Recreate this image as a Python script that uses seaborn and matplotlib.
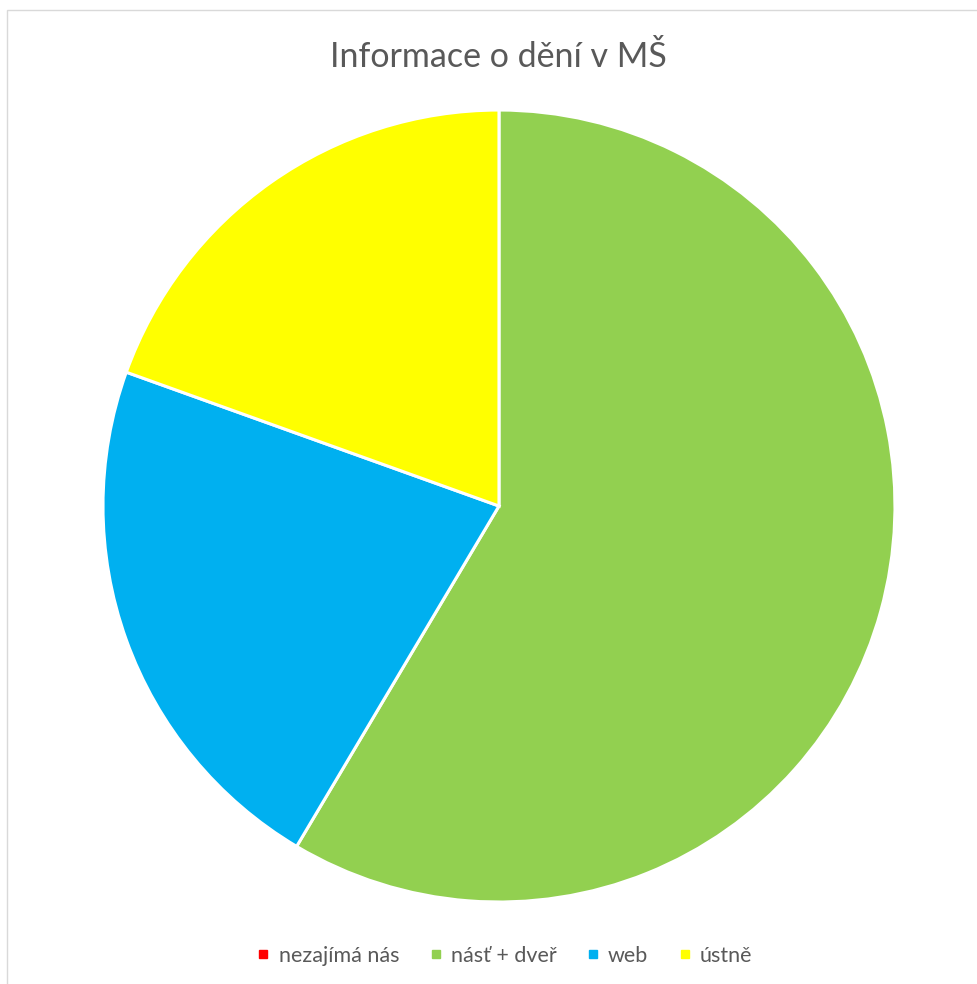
import matplotlib
matplotlib.use('Agg')
import matplotlib.pyplot as plt
from matplotlib.lines import Line2D
from matplotlib.patches import Rectangle
import seaborn as sns

# data (counts)
labels = ['nezajímá nás', 'násť + dveř', 'web', 'ústně']
values = [0, 24, 9, 8]
colors = ['#FF0000', '#92D050', '#00B0F0', '#FFFF00']
title = 'Informace o dění v MŠ'


def plot_pie(values, colors, axes):
    axes.pie(values, colors=colors, startangle=90, counterclock=False,
             radius=1.0, wedgeprops=dict(edgecolor='white', linewidth=2.2))
    axes.set_xlim(-1, 1)
    axes.set_ylim(-1, 1)
    axes.set_aspect('equal')
    axes.axis('off')


if __name__ == '__main__':
    sns.set_theme(style='white')
    plt.rcParams['font.family'] = ['Lato', 'DejaVu Sans']
    palette = sns.color_palette(colors)

    fig = plt.figure(figsize=(9.78, 9.84), dpi=100)
    fig.patches.append(Rectangle((7 / 978, -0.05), 1.1, 1 - 10 / 984 + 0.05,
                                 transform=fig.transFigure, fill=False,
                                 edgecolor='#D9D9D9', linewidth=1))
    ax = fig.add_axes([0.1053, 0.0833, 0.8098, 0.8049])
    plot_pie(values, palette, ax)

    fig.text(0.510, 1 - 57 / 984, title, ha='center', va='center',
             fontsize=24.5, color='#595959')

    handles = [Line2D([], [], linestyle='none', marker='s', markersize=6,
                      markerfacecolor=c, markeredgecolor=c) for c in palette]
    fig.legend(handles, labels, loc='center', bbox_to_anchor=(0.515, 1 - 956 / 984),
               ncol=4, frameon=False, fontsize=15.5, labelcolor='#595959',
               handletextpad=0.3, columnspacing=1.3, handlelength=0.8)

    fig.savefig('out.png', dpi=100, facecolor='white')
